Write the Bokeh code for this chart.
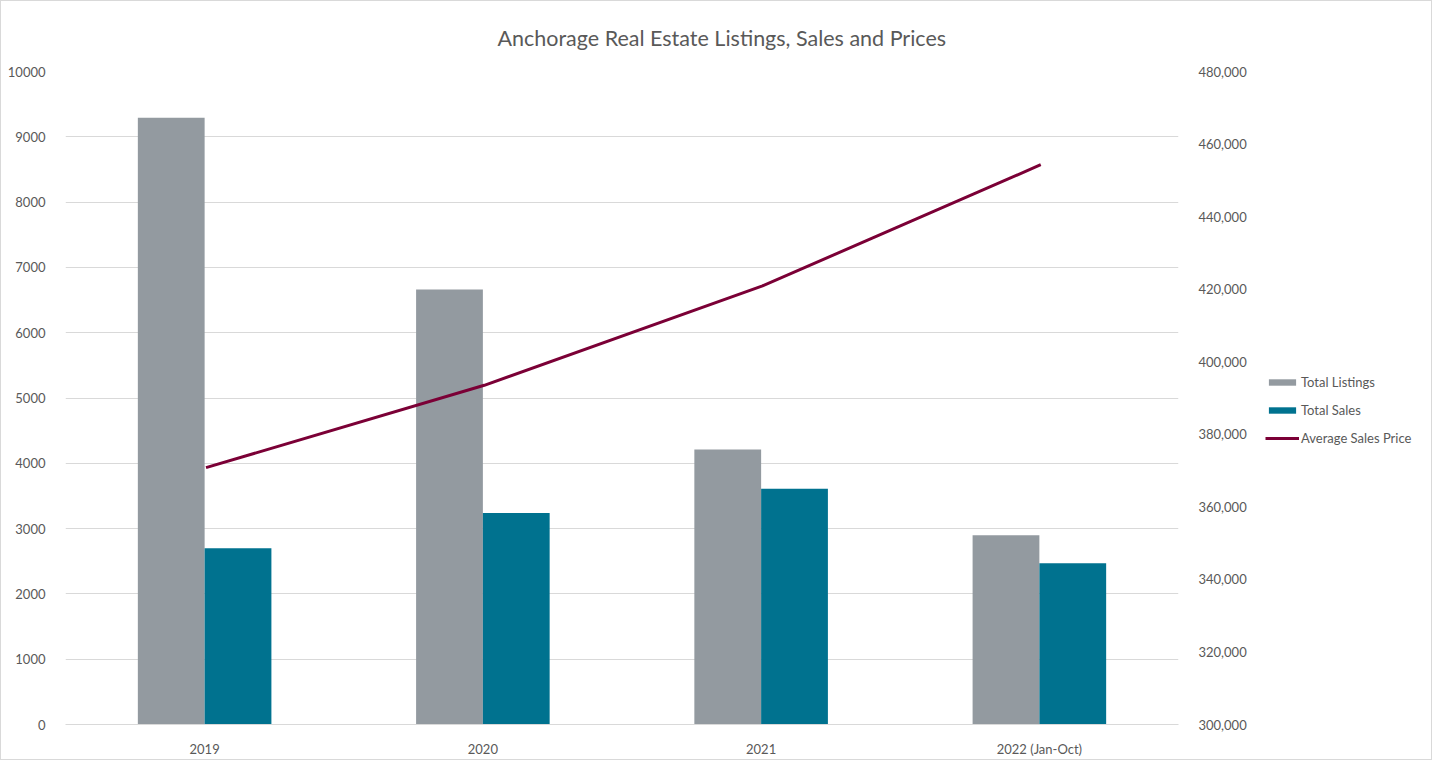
from bokeh.plotting import figure
from bokeh.layouts import row
from bokeh.models import (FactorRange, Range1d, LinearAxis, FixedTicker, NumeralTickFormatter,
                          Legend, LegendItem, ColumnDataSource, Title)
from bokeh.transform import dodge
from bokeh.embed import file_html
from bokeh.resources import INLINE

categories = ["2019", "2020", "2021", "2022 (Jan-Oct)"]
total_listings = [9290, 6660, 4210, 2900]
total_sales = [2700, 3240, 3610, 2470]
avg_sales_price = [370800, 393500, 420900, 454300]
left_ticks = [0, 1000, 2000, 3000, 4000, 5000, 6000, 7000, 8000, 9000, 10000]
right_ticks = [300000, 320000, 340000, 360000, 380000, 400000, 420000, 440000, 460000, 480000]
series_names = ["Total Listings", "Total Sales", "Average Sales Price"]
series_colors = ["#939aa0", "#00728f", "#7b0036"]

FONT = "Lato"
TXT = "#595959"
GRID = "#d9d9d9"

src = ColumnDataSource(dict(cat=categories, listings=total_listings, sales=total_sales,
                            price=avg_sales_price))

p = figure(x_range=FactorRange(*categories, range_padding=0), y_range=Range1d(0, 10000),
           width=1248, height=758, output_backend="svg", toolbar_location=None,
           min_border_left=64, min_border_right=65, min_border_top=68, min_border_bottom=33)
p.extra_y_ranges = {"price": Range1d(300000, 480000)}

p.title = Title(text="Anchorage Real Estate Listings, Sales and Prices", align="left",
                text_font=FONT, text_font_size="21.5px", text_font_style="normal",
                text_color=TXT, standoff=42, offset=432)

p.outline_line_color = None
p.xgrid.grid_line_color = None
p.ygrid.grid_line_color = GRID
p.ygrid.grid_line_width = 1
p.yaxis.ticker = FixedTicker(ticks=left_ticks)

p.vbar(x=dodge("cat", -0.12, range=p.x_range), top="listings", width=0.24, source=src,
       fill_color=series_colors[0], line_color=None)
p.vbar(x=dodge("cat", 0.12, range=p.x_range), top="sales", width=0.24, source=src,
       fill_color=series_colors[1], line_color=None)
p.line(x=dodge("cat", 0.005, range=p.x_range), y="price", source=src, y_range_name="price",
       line_color=series_colors[2], line_width=3)

right = LinearAxis(y_range_name="price", ticker=FixedTicker(ticks=right_ticks),
                   formatter=NumeralTickFormatter(format="0,0"))
p.add_layout(right, "right")

for ax in [p.yaxis[0], right]:
    ax.axis_line_color = None
    ax.major_tick_line_color = None
    ax.minor_tick_line_color = None
    ax.major_label_text_font = FONT
    ax.major_label_text_font_size = "13px"
    ax.major_label_text_color = TXT
p.yaxis[0].major_label_standoff = 14
right.major_label_standoff = 14

xa = p.xaxis[0]
xa.axis_line_color = GRID
xa.major_tick_line_color = None
xa.minor_tick_line_color = None
xa.major_label_text_font = FONT
xa.major_label_text_font_size = "13px"
xa.major_label_text_color = TXT
xa.major_label_standoff = 10

# legend panel to the right of the secondary axis (its own renderers lie outside its ranges)
q = figure(width=182, height=758, output_backend="svg", toolbar_location=None,
           x_range=Range1d(0, 1), y_range=Range1d(0, 1),
           x_axis_location=None, y_axis_location=None, min_border=0)
q.grid.visible = False
q.outline_line_color = None
k1 = q.vbar(x="listings", top="sales", width=0.1, source=src,
            fill_color=series_colors[0], line_color=None)
k2 = q.vbar(x="listings", top="sales", width=0.1, source=src,
            fill_color=series_colors[1], line_color=None)
k3 = q.line(x="listings", y="price", source=src, line_color=series_colors[2], line_width=3)

legend = Legend(items=[LegendItem(label=series_names[0], renderers=[k1]),
                       LegendItem(label=series_names[1], renderers=[k2]),
                       LegendItem(label=series_names[2], renderers=[k3])],
                location=(16, 276), orientation="vertical",
                glyph_width=34, glyph_height=8, label_height=20, spacing=8,
                label_standoff=2, padding=0, margin=0,
                border_line_color=None, background_fill_alpha=0,
                label_text_font=FONT, label_text_font_size="13px", label_text_color=TXT)
q.add_layout(legend, "center")

layout = row(p, q)
layout.styles = {"border": "1px solid #d9d9d9"}

open("out.html", "w").write(file_html(layout, INLINE))
